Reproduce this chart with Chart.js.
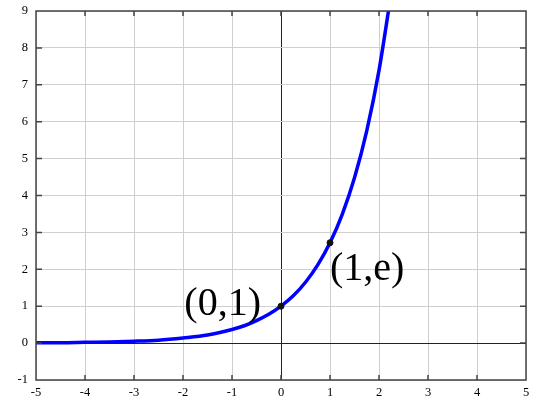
<!DOCTYPE html>
<html>
<head>
<meta charset="utf-8">
<script src="https://cdn.jsdelivr.net/npm/chart.js@4/dist/chart.umd.min.js"></script>
<style>
  html, body { margin: 0; padding: 0; background: #fff; }
  #wrap { width: 540px; height: 405px; }
</style>
</head>
<body>
<div id="wrap"><canvas id="expChart" width="540" height="405"></canvas></div>
<script>
// values (curve y = e^x)
const curveX = [-5, -4.5, -4, -3.5, -3, -2.5, -2, -1.5, -1, -0.75, -0.5, -0.25, 0, 0.25, 0.5, 0.75, 1, 1.25, 1.5, 1.75, 2, 2.25];
const curveY = [0.01, 0.01, 0.02, 0.03, 0.05, 0.08, 0.14, 0.22, 0.37, 0.47, 0.61, 0.78, 1, 1.28, 1.65, 2.12, 2.72, 3.49, 4.48, 5.75, 7.39, 9.49];
const markX = [0, 1];
const markY = [1, 2.72];
const markLabels = ['(0,1)', '(1,e)'];
const xTicks = [-5, 5];
const yTicks = [-1, 9];

const serif = '"Liberation Serif", "DejaVu Serif", serif';

// frame, inward tick marks and the two point labels
const framePlugin = {
    id: 'framePlugin',
    afterDraw(chart) {
        const c = chart.ctx;
        const a = chart.chartArea;
        const xs = chart.scales.x, ys = chart.scales.y;
        c.save();
        c.strokeStyle = '#444';
        c.lineWidth = 1.5;
        c.strokeRect(a.left, a.top, a.right - a.left, a.bottom - a.top);
        c.beginPath();
        for (let v = xTicks[0] + 1; v < xTicks[1]; v++) {
            let px = xs.getPixelForValue(v);
            c.moveTo(px, a.bottom); c.lineTo(px, a.bottom - 5);
            c.moveTo(px, a.top); c.lineTo(px, a.top + 5);
        }
        for (let v = yTicks[0] + 1; v < yTicks[1]; v++) {
            let py = ys.getPixelForValue(v);
            c.moveTo(a.left, py); c.lineTo(a.left + 6, py);
            c.moveTo(a.right, py); c.lineTo(a.right - 6, py);
        }
        c.stroke();

        // labels next to the marked points
        c.fillStyle = '#000';
        c.font = '40px ' + serif;
        c.textBaseline = 'alphabetic';
        let p0x = xs.getPixelForValue(markX[0]), p0y = ys.getPixelForValue(markY[0]);
        c.textAlign = 'right';
        c.fillText(markLabels[0], p0x - 20, p0y + 9);
        let p1x = xs.getPixelForValue(markX[1]), p1y = ys.getPixelForValue(markY[1]);
        c.textAlign = 'left';
        c.fillText(markLabels[1], p1x, p1y + 37);
        c.restore();
    }
};

const ctx = document.getElementById('expChart').getContext('2d');
const chart = new Chart(ctx, {
    type: 'scatter',
    data: {
        datasets: [{
            data: curveX.map((x, i) => ({ x: x, y: curveY[i] })),
            showLine: true,
            borderColor: '#0000ff',
            borderWidth: 3.5,
            pointRadius: 0,
            cubicInterpolationMode: 'monotone',
            order: 2
        }, {
            data: markX.map((x, i) => ({ x: x, y: markY[i] })),
            showLine: false,
            backgroundColor: '#111',
            borderColor: '#111',
            pointRadius: 3,
            order: 1
        }]
    },
    options: {
        responsive: false,
        animation: false,
        layout: { padding: { top: 11, right: 14, left: 0, bottom: 0 } },
        plugins: {
            legend: { display: false },
            tooltip: { enabled: false }
        },
        scales: {
            x: {
                type: 'linear',
                min: xTicks[0],
                max: xTicks[1],
                ticks: {
                    stepSize: 1,
                    color: '#000',
                    padding: 5,
                    maxRotation: 0,
                    font: { family: serif, size: 12.5 }
                },
                grid: {
                    color: (c) => c.tick && c.tick.value === 0 ? '#222' : '#cfcfcf',
                    lineWidth: 1,
                    drawTicks: false
                },
                border: { display: false },
                afterFit(scale) {
                    scale.height = 25;
                    scale.paddingLeft = 0;
                    scale.paddingRight = 0;
                }
            },
            y: {
                type: 'linear',
                min: yTicks[0],
                max: yTicks[1],
                ticks: {
                    stepSize: 1,
                    color: '#000',
                    padding: 8,
                    font: { family: serif, size: 12.5 }
                },
                grid: {
                    color: (c) => c.tick && c.tick.value === 0 ? '#222' : '#cfcfcf',
                    lineWidth: 1,
                    drawTicks: false
                },
                border: { display: false },
                afterFit(scale) {
                    scale.width = 36;
                    scale.paddingTop = 0;
                    scale.paddingBottom = 0;
                }
            }
        }
    },
    plugins: [framePlugin]
});
</script>
</body>
</html>
